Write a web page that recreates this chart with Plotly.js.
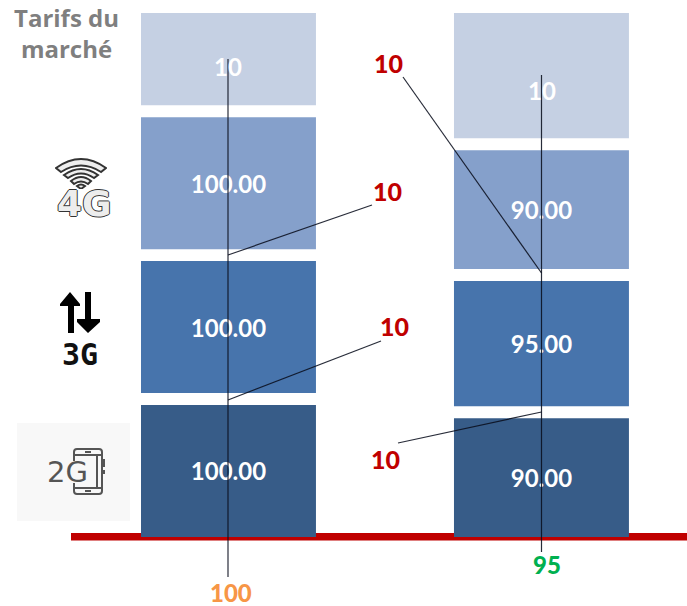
<!DOCTYPE html>
<html><head><meta charset="utf-8">
<script src="https://cdn.plot.ly/plotly-3.0.1.min.js"></script>
<style>html,body{margin:0;padding:0;background:#fff}#c{width:687px;height:606px}</style>
</head><body><div id="c"></div><script>
// DATA
const offers = [0, 1];
const v2G = [100, 90];
const v3G = [100, 95];
const v4G = [100, 90];
const vTarifs = [70, 95];
const l2G = ["100.00", "90.00"];
const l3G = ["100.00", "95.00"];
const l4G = ["100.00", "90.00"];
const lTarifs = ["10", "10"];
const totals = ["100", "95"];
const calloutLabels = ["10", "10", "10", "10"];

// STYLE / LAYOUT
const W = 687, H = 606;
const gap = 9;
const colors = ["#375C88", "#4774AC", "#85A0CB", "#C5D0E3"];
const px = x => x / W, py = y => 1 - y / H;
const series = [[v2G, l2G], [v3G, l3G], [v4G, l4G], [vTarifs, null]];
const cum = [0, 0];
const traces = series.map(([vals, labs], i) => {
  const base = cum.slice();
  vals.forEach((v, k) => { cum[k] += v + gap; });
  return {
    type: "bar", x: offers, y: vals, base: base, width: 0.559,
    marker: { color: colors[i], line: { width: 0 } },
    text: labs || undefined, textposition: labs ? "inside" : "none",
    insidetextanchor: "middle", textangle: 0, constraintext: "none",
    insidetextfont: { family: "Lato", size: 24, color: "#fff", weight: 700 },
    hoverinfo: "skip", showlegend: false
  };
});

const leaderColor = "rgba(10,15,30,0.88)";
const seg = (x0, y0, x1, y1) => ({
  type: "line", xref: "paper", yref: "paper", layer: "above",
  x0: px(x0), y0: py(y0), x1: px(x1), y1: py(y1),
  line: { color: leaderColor, width: 1.2 }
});
const shapes = [
  { type: "rect", xref: "paper", yref: "paper", layer: "below", x0: px(71), x1: 1, y0: py(540.5), y1: py(533),
    fillcolor: "#C00000", line: { width: 0 } },
  { type: "rect", xref: "paper", yref: "paper", layer: "below", x0: px(17), x1: px(130), y0: py(521), y1: py(423),
    fillcolor: "#F8F8F8", line: { width: 0 } },
  seg(228, 59, 228, 577), seg(541.5, 75, 541.5, 552),
  seg(228, 255, 372, 205), seg(228, 400, 381, 341),
  seg(541.5, 273, 403, 77), seg(541.5, 412, 398, 443)
];

const note = (x, y, text, size, color, family, extra) => Object.assign({
  xref: "paper", yref: "paper", x: px(x), y: py(y), text: text, showarrow: false,
  xanchor: "center", yanchor: "middle",
  font: { family: family || "Lato", size: size, color: color, weight: 700 }
}, extra || {});
const calloutPos = [[387, 191], [394, 326], [388, 63], [385, 459]];
const annotations = [
  note(66, 33.5, "Tarifs du<br>marché", 24, "#7F7F7F", "Open Sans"),
  note(228, 67, lTarifs[0], 24, "#fff"),
  note(541.5, 90, lTarifs[1], 24, "#fff"),
  note(231, 592, totals[0], 24, "#F79646", "Lato", { font: { family: "Lato", size: 24, color: "#F79646", weight: 900 } }),
  note(547, 564, totals[1], 24, "#00B050", "Lato", { font: { family: "Lato", size: 24, color: "#00B050", weight: 900 } }),
  note(84.5, 203, "4G", 36, "#E8E8E8", "DejaVu Sans", {
    font: { family: "DejaVu Sans", size: 36, color: "#EDEDED", weight: 700,
      shadow: "1px 0 #333, -1px 0 #333, 0 1px #333, 0 -1px #333" } }),
  note(79.5, 354, "3G", 30, "#111", "DejaVu Sans Mono"),
  note(67.5, 472, "2G", 29, "#555", "DejaVu Sans", { font: { family: "DejaVu Sans", size: 29, color: "#555", weight: 400 } })
].concat(calloutLabels.map((t, i) => note(calloutPos[i][0], calloutPos[i][1], t, 25, "#C00000", "Lato",
  { font: { family: "Lato", size: 25, color: "#C00000", weight: 900 } })));

const svg = s => "data:image/svg+xml;utf8," + encodeURIComponent(s);
const wifi = svg('<svg xmlns="http://www.w3.org/2000/svg" viewBox="0 0 52 32"><g fill="#eee" stroke="#333" stroke-width="2">' +
  '<path d="M1 11 Q26 -7 51 11 L46 15 Q26 2 6 15 Z"/><path d="M9 18 Q26 6 43 18 L39 21 Q26 12 13 21 Z"/>' +
  '<path d="M16 24 Q26 16 36 24 L33 27 Q26 22 19 27 Z"/><path d="M22 29 Q26 26 30 29 L26 32 Z"/></g></svg>');
const arrows = svg('<svg xmlns="http://www.w3.org/2000/svg" viewBox="0 0 40 41"><g fill="#000">' +
  '<path d="M10 0 L20 12 L20 14 L14 14 L14 41 L8 41 L8 14 L0 14 L0 12 Z"/>' +
  '<path d="M25 0 L31 0 L31 27 L40 27 L40 30 L28 41 L17 30 L17 27 L25 27 Z"/></g></svg>');
const phone = svg('<svg xmlns="http://www.w3.org/2000/svg" viewBox="0 0 33 47"><g fill="none" stroke="#555" stroke-width="2">' +
  '<path d="M2 13 L2 4 Q2 1 5 1 L27 1 Q30 1 30 4 L30 43 Q30 46 27 46 L5 46 Q2 46 2 43 L2 35"/>' +
  '<path d="M2 7 L30 7 M2 40 L30 40 M21 7 L25 7 L25 40 L21 40"/><path d="M13 4 L19 4 M13 43 L19 43"/>' +
  '<path d="M32 11 L32 19 M32 22 L32 26"/></g></svg>');
const img = (src, x, y, w, h) => ({ source: src, xref: "paper", yref: "paper", x: px(x), y: py(y),
  sizex: w / W, sizey: h / H, sizing: "stretch", xanchor: "left", yanchor: "top", layer: "above" });

const layout = {
  width: W, height: H, margin: { l: 0, r: 0, t: 0, b: 0 }, barmode: "overlay",
  paper_bgcolor: "#fff", plot_bgcolor: "#fff", showlegend: false,
  xaxis: { visible: false, range: [-0.73, 1.465], fixedrange: true },
  yaxis: { visible: false, range: [-52.27, 406.8], fixedrange: true },
  shapes: shapes, annotations: annotations,
  images: [img(wifi, 55, 157, 52, 32), img(arrows, 60, 292, 40, 41), img(phone, 72, 448, 33, 47)]
};
Plotly.newPlot("c", traces, layout, { displayModeBar: false, staticPlot: true });
</script></body></html>
